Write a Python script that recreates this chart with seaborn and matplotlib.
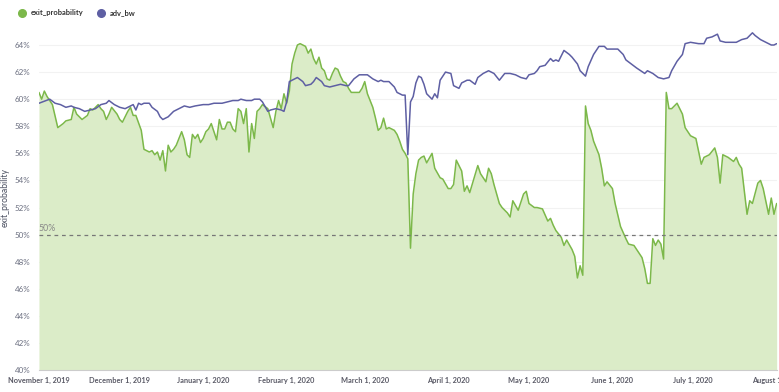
import matplotlib
matplotlib.use("Agg")
import matplotlib.pyplot as plt
from matplotlib.lines import Line2D
from matplotlib.ticker import PercentFormatter
import numpy as np
import pandas as pd
import seaborn as sns

# exit_probability (day offset from Nov 1 2019, value in %)
exit_days = [0, 1, 2, 3, 5, 7, 9, 10, 12, 13, 14, 16, 18, 19, 20, 22, 23, 24, 25, 26,
             27, 29, 30, 31, 33, 34, 35, 36, 38, 39, 41, 42, 43, 44, 45, 46, 47, 48, 49, 50,
             51, 52, 53, 54, 55, 56, 57, 58, 59, 60, 61, 62, 63, 64, 65, 66, 67, 68, 69, 70,
             71, 72, 73, 74, 75, 76, 77, 78, 79, 80, 81, 82, 83, 85, 86, 87, 88, 89, 90, 91,
             92, 93, 94, 95, 96, 97, 98, 99, 100, 101, 102, 103, 104, 105, 106, 107, 108, 109, 110, 111,
             112, 113, 114, 115, 116, 117, 119, 120, 121, 122, 123, 124, 125, 126, 127, 128, 129, 130, 131, 132,
             133, 134, 135, 136, 137, 138, 139, 140, 141, 142, 143, 144, 146, 147, 149, 150, 152, 153, 154, 155,
             157, 158, 159, 160, 163, 164, 165, 166, 167, 168, 169, 171, 172, 174, 175, 176, 178, 180, 181, 182,
             184, 185, 187, 189, 190, 191, 192, 194, 195, 196, 198, 199, 200, 201, 202, 203, 204, 205, 206, 208,
             209, 210, 211, 213, 214, 216, 218, 219, 221, 222, 224, 225, 226, 227, 228, 229, 230, 231, 232, 233,
             234, 235, 237, 239, 240, 242, 244, 246, 247, 249, 251, 252, 253, 254, 256, 258, 259, 260, 261, 263,
             264, 265, 267, 268, 269, 271, 272, 273, 274]
exit_prob = [60.5, 60.0, 60.6, 60.2, 59.6, 57.9, 58.2, 58.4, 58.5, 59.4, 58.9, 58.5, 58.8, 59.3, 59.2, 59.6, 59.3, 59.1, 58.5, 58.9,
             59.4, 58.9, 58.5, 58.3, 59.1, 59.4, 58.8, 58.8, 57.7, 56.3, 56.1, 56.2, 55.9, 56.1, 55.5, 56.2, 54.7, 56.6, 56.1, 56.3,
             56.6, 57.1, 57.6, 57.0, 55.9, 55.7, 57.4, 57.1, 57.4, 56.8, 57.1, 57.6, 57.8, 58.2, 57.6, 57.0, 58.5, 57.8, 57.8, 58.3,
             58.3, 57.8, 57.6, 59.3, 59.1, 58.2, 59.3, 56.1, 58.2, 57.1, 59.1, 59.3, 59.6, 59.3, 58.6, 57.9, 59.1, 59.9, 59.3, 60.4,
             59.7, 60.6, 62.6, 63.4, 64.0, 64.1, 64.0, 63.9, 63.4, 63.7, 63.0, 62.6, 63.1, 62.3, 62.1, 61.5, 61.4, 61.9, 62.3, 62.2,
             61.7, 61.3, 61.2, 60.8, 60.5, 60.5, 60.5, 60.8, 61.3, 60.4, 59.9, 59.4, 58.6, 57.7, 57.9, 58.6, 57.8, 57.9, 57.8, 57.7,
             57.4, 56.9, 56.3, 56.0, 55.6, 49.0, 53.0, 54.5, 55.5, 55.7, 55.8, 55.3, 56.0, 54.9, 54.2, 54.1, 53.4, 53.4, 53.7, 55.5,
             54.7, 53.2, 53.6, 53.1, 55.1, 54.5, 54.2, 53.9, 54.9, 54.5, 53.7, 52.3, 52.0, 51.6, 51.3, 52.5, 51.8, 53.0, 53.2, 52.3,
             52.0, 52.0, 51.9, 51.0, 51.2, 50.7, 50.3, 49.8, 49.2, 49.6, 48.9, 48.4, 46.8, 47.7, 47.0, 59.5, 58.2, 57.7, 56.9, 55.9,
             54.9, 53.6, 53.9, 53.4, 52.3, 50.6, 49.7, 49.3, 49.2, 48.9, 48.3, 47.5, 46.4, 46.4, 49.7, 49.2, 49.6, 49.3, 48.2, 60.5,
             59.3, 59.3, 59.7, 58.9, 57.9, 57.3, 57.1, 55.2, 55.7, 55.9, 56.4, 55.7, 53.8, 55.9, 55.7, 55.4, 55.7, 55.2, 54.9, 51.5,
             52.5, 52.3, 53.8, 54.0, 53.4, 51.5, 52.7, 51.5, 52.3]

# adv_bw
adv_days = [0, 4, 6, 8, 10, 12, 13, 15, 17, 19, 21, 23, 25, 26, 28, 30, 32, 34, 35, 36,
            37, 38, 39, 41, 42, 44, 45, 46, 48, 49, 50, 51, 53, 54, 56, 58, 61, 63, 65, 68,
            70, 72, 74, 75, 77, 79, 80, 82, 83, 85, 86, 88, 90, 91, 92, 93, 94, 96, 98, 99,
            101, 102, 103, 105, 106, 108, 110, 112, 114, 115, 117, 119, 120, 122, 124, 126, 127, 128, 130, 132,
            133, 135, 136, 137, 138, 139, 140, 141, 142, 143, 144, 145, 146, 147, 148, 149, 150, 151, 153, 154,
            156, 157, 159, 160, 162, 163, 165, 167, 169, 171, 173, 175, 177, 179, 181, 182, 184, 185, 186, 188,
            190, 191, 192, 193, 195, 197, 198, 200, 201, 203, 204, 206, 208, 210, 211, 213, 215, 217, 218, 220,
            222, 225, 226, 228, 230, 232, 234, 235, 237, 239, 240, 242, 245, 247, 248, 250, 252, 253, 255, 257,
            259, 261, 263, 265, 266, 268, 270, 272, 273, 274]
adv_bw = [59.7, 60.0, 59.7, 59.6, 59.4, 59.5, 59.4, 59.3, 59.1, 59.2, 59.3, 59.6, 59.7, 59.9, 59.6, 59.4, 59.3, 59.5, 59.6, 59.2,
          59.7, 59.6, 59.7, 59.7, 59.4, 59.1, 58.7, 58.5, 58.7, 58.9, 59.1, 59.2, 59.4, 59.5, 59.4, 59.5, 59.6, 59.6, 59.7, 59.7,
          59.8, 59.9, 59.9, 60.0, 59.9, 59.9, 60.0, 60.0, 59.8, 59.1, 59.2, 59.3, 59.2, 59.1, 59.8, 61.3, 61.4, 61.6, 61.3, 61.0,
          61.1, 61.3, 61.6, 61.3, 61.0, 60.9, 61.0, 61.1, 61.0, 61.0, 61.5, 61.8, 61.8, 61.8, 61.5, 61.3, 61.4, 61.3, 61.3, 60.9,
          60.5, 60.3, 60.3, 55.9, 59.8, 60.2, 61.2, 61.7, 61.6, 61.1, 60.4, 60.2, 60.0, 60.4, 60.1, 61.4, 61.7, 62.0, 61.9, 61.0,
          60.8, 61.2, 61.4, 61.4, 61.1, 61.6, 61.9, 62.1, 61.9, 61.4, 61.9, 61.9, 61.8, 61.6, 61.5, 61.8, 61.9, 62.1, 62.4, 62.5,
          63.0, 62.8, 62.9, 62.8, 63.6, 63.3, 63.1, 62.6, 62.1, 61.7, 62.4, 63.3, 63.9, 63.9, 63.7, 63.7, 63.7, 63.3, 62.9, 62.6,
          62.3, 61.9, 62.1, 61.9, 61.6, 61.5, 61.6, 62.1, 62.8, 63.3, 64.1, 64.2, 64.1, 64.1, 64.5, 64.6, 64.8, 64.3, 64.2, 64.2,
          64.2, 64.4, 64.5, 64.9, 64.7, 64.4, 64.2, 64.0, 64.0, 64.1]

tick_dates = ["2019-11-01", "2019-12-01", "2020-01-01", "2020-02-01", "2020-03-01",
              "2020-04-01", "2020-05-01", "2020-06-01", "2020-07-01", "2020-08-01"]
tick_labels = ["November 1, 2019", "December 1, 2019", "January 1, 2020", "February 1, 2020",
               "March 1, 2020", "April 1, 2020", "May 1, 2020", "June 1, 2020",
               "July 1, 2020", "August 1, 2020"]

start = pd.Timestamp("2019-11-01")
df_exit = pd.DataFrame({"date": start + pd.to_timedelta(exit_days, unit="D"),
                        "value": np.array(exit_prob) / 100})
df_adv = pd.DataFrame({"date": start + pd.to_timedelta(adv_days, unit="D"),
                       "value": np.array(adv_bw) / 100})

green = "#7cb84a"
fill_green = "#dbecc8"
purple = "#5e5fa3"

sns.set_theme(style="white")
plt.rcParams["font.family"] = ["Lato", "DejaVu Sans"]

fig = plt.figure(figsize=(7.79, 3.92), dpi=100)
ax = fig.add_axes([0.050, 0.056, 0.947, 0.881])

ymin = 0.40
ax.fill_between(df_exit["date"], ymin, df_exit["value"], color=fill_green, lw=0, zorder=1)
sns.lineplot(data=df_exit, x="date", y="value", ax=ax, color=green, lw=1.1, zorder=3)
sns.lineplot(data=df_adv, x="date", y="value", ax=ax, color=purple, lw=1.1, zorder=4)

# 50% reference line
ax.axhline(0.50, color="#777777", lw=0.9, ls=(0, (3, 3)), zorder=5)
ax.text(pd.Timestamp("2019-11-01"), 0.5015, "50%", color="#888888", fontsize=6.3,
        ha="left", va="bottom")

ax.set_xlim(pd.Timestamp("2019-11-01"), pd.Timestamp("2020-08-01"))
ax.set_ylim(ymin, 0.655)
ax.set_yticks(np.arange(0.40, 0.641, 0.02))
ax.yaxis.set_major_formatter(PercentFormatter(1.0, decimals=0))
ax.set_xticks(pd.to_datetime(tick_dates))
ax.set_xticklabels(tick_labels)

ax.grid(axis="y", color="#f2f2f2", lw=0.8)
ax.set_axisbelow(True)
for s in ["top", "right", "left"]:
    ax.spines[s].set_visible(False)
ax.spines["bottom"].set_color("#cccccc")
ax.spines["bottom"].set_linewidth(0.8)

ax.tick_params(axis="y", labelsize=5.8, labelcolor="#6b6f80", length=0, pad=6)
ax.tick_params(axis="x", labelsize=5.3, labelcolor="#5a5a66", length=3, color="#cccccc", pad=2)
for lab in ax.get_xticklabels():
    lab.set_fontweight("bold")

ax.set_xlabel("")
ax.set_ylabel("exit_probability", fontsize=6.2, color="#4a4f60", labelpad=4)

handles = [
    Line2D([], [], marker="o", ls="", color=green, markersize=5.5),
    Line2D([], [], marker="o", ls="", color=purple, markersize=5.5),
]
fig.legend(handles, ["exit_probability", "adv_bw"], loc="upper left",
           bbox_to_anchor=(0.010, 0.993), ncol=2, frameon=False, fontsize=5.4,
           handletextpad=0.2, columnspacing=1.3, labelcolor="#333333",
           prop={"weight": "bold", "size": 5.4})

fig.savefig("out.png", dpi=100)
